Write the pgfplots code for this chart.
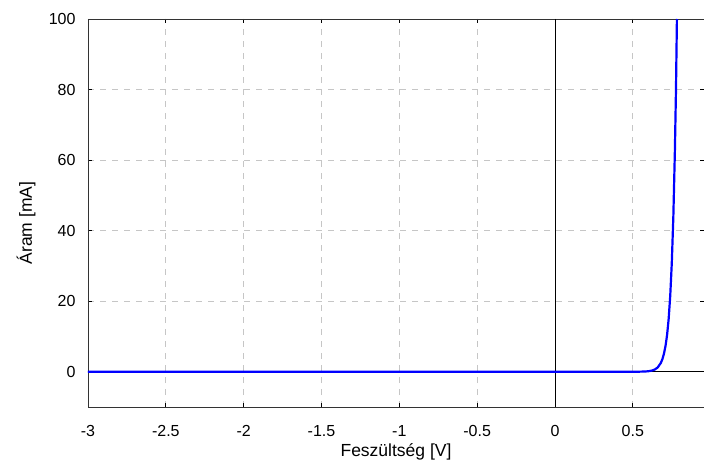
\documentclass[border=0pt]{standalone}
\usepackage{pgfplots}
\pgfplotsset{compat=1.18}
\usepackage{fontspec}
\setmainfont{Liberation Sans}
\begin{document}
\begin{tikzpicture}
\begin{axis}[
  scale only axis,
  width=616pt, height=388pt,
  xmin=-3, xmax=0.957, ymin=-10, ymax=100,
  xtick={-3,-2.5,...,0.5},
  ytick={0,20,...,100},
  xticklabels={-3,-2.5,-2,-1.5,-1,-0.5,0,0.5},
  tick align=inside,
  major tick length=4pt,
  tick style={black, line width=0.8pt},
  grid=major,
  major grid style={gray!45, dashed, dash pattern=on 6pt off 6pt, line width=0.8pt},
  axis line style={black!80, line width=0.9pt},
  tick label style={font=\fontsize{16}{18}\selectfont},
  label style={font=\fontsize{17.5}{20}\selectfont},
  /pgf/number format/assume math mode=true,
  xticklabel style={anchor=center, yshift=-24pt},
  yticklabel style={anchor=east, xshift=-9pt},
  xlabel={Feszültség [V]},
  ylabel={Áram [mA]},
  xlabel style={at={(axis description cs:0.5,0)}, anchor=center, yshift=-45pt},
  ylabel style={at={(axis description cs:0,0.5)}, anchor=center, yshift=62pt, xshift=-10pt},
  every tick label/.append style={black},
  clip=true,
]
\addplot[black, line width=0.8pt, forget plot] coordinates {(-3,0) (0.957,0)};
\addplot[black, line width=0.8pt, forget plot] coordinates {(0,-10) (0,100)};
\addplot[blue, line width=2.2pt] coordinates {
(-3,0) (0.50,0.004) (0.55,0.024) (0.58,0.071) (0.60,0.145) (0.62,0.296)
(0.64,0.604) (0.66,1.23) (0.68,2.52) (0.69,3.60) (0.70,5.15) (0.71,7.36)
(0.72,10.5) (0.73,15.0) (0.74,21.5) (0.75,30.7) (0.76,43.9) (0.77,62.7)
(0.777,80) (0.783,100)
};
\end{axis}
\pgfresetboundingbox
\path ([xshift=-88pt,yshift=-56pt]current axis.south west) rectangle ([yshift=19pt]current axis.north east);
\end{tikzpicture}
\end{document}
